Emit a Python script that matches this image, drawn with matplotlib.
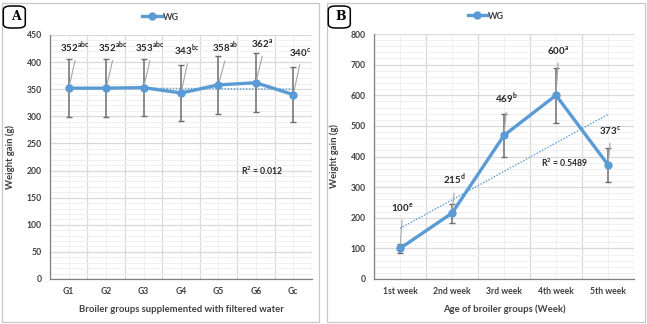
import numpy as np
import matplotlib
matplotlib.use("Agg")
import matplotlib.pyplot as plt
from matplotlib.patches import FancyBboxPatch, Rectangle
from matplotlib.ticker import MultipleLocator

plt.rcParams['font.family'] = ['Lato', 'DejaVu Sans']
plt.rcParams['mathtext.fontset'] = 'custom'
plt.rcParams['mathtext.rm'] = 'Lato'
plt.rcParams['mathtext.bf'] = 'Lato:bold'

# Panel A: weight gain per group
groups_a = ["G1", "G2", "G3", "G4", "G5", "G6", "Gc"]
wg_a = [352, 352, 353, 343, 358, 362, 340]
err_a = [53, 53, 53, 51, 54, 54, 51]
sup_a = ["abc", "abc", "abc", "bc", "ab", "a", "c"]
r2_a = "R$^\\mathbf{2}$ = 0.012"

# Panel B: weight gain per week
weeks_b = ["1st week", "2nd week", "3rd week", "4th week", "5th week"]
wg_b = [100, 215, 469, 600, 373]
err_b = [15, 31, 70, 90, 56]
sup_b = ["e", "d", "b", "a", "c"]
r2_b = "R$^\\mathbf{2}$ = 0.5489"

BLUE = "#5B9BD5"
W, H = 647, 324
fig = plt.figure(figsize=(W / 100, H / 100), dpi=100)


def px_rect(x0, y0, x1, y1):
    return [x0 / W, 1 - y1 / H, (x1 - x0) / W, (y1 - y0) / H]


def panel(ax_rect, box, letter, cats, vals, errs, sups, ymax, ystep,
          lab_dy, lab_dx, r2_text, r2_xy, xlabel):
    # outer frame of the panel
    bx0, by0, bx1, by1 = box
    fig.patches.append(Rectangle((bx0 / W, 1 - by1 / H), (bx1 - bx0) / W,
                                 (by1 - by0) / H, transform=fig.transFigure,
                                 fill=False, edgecolor="#C8C8C8", lw=0.9))
    # letter badge
    fig.patches.append(FancyBboxPatch((bx0 / W + 0.002, 1 - 28 / H), 22 / W, 22 / H,
                                      boxstyle="round,pad=0,rounding_size=0.012",
                                      transform=fig.transFigure, facecolor="white",
                                      edgecolor="black", lw=1.1))
    fig.text((bx0 + 14) / W, 1 - 16 / H, letter, family="DejaVu Serif",
             fontweight="bold", fontsize=9, ha="center", va="center")

    ax = fig.add_axes(px_rect(*ax_rect))
    n = len(cats)
    x = np.arange(n)
    ax.set_xlim(-0.5, n - 0.5)
    ax.set_ylim(0, ymax)
    ax.yaxis.set_major_locator(MultipleLocator(ystep))
    ax.yaxis.set_minor_locator(MultipleLocator(ystep / 5))
    ax.set_xticks(x)
    ax.set_xticklabels(cats)
    ax.set_xticks(np.arange(n + 1) - 0.5, minor=True)
    ax.grid(True, axis="y", which="major", color="#D9D9D9", lw=0.9)
    ax.grid(True, axis="y", which="minor", color="#F0F0F0", lw=0.7)
    ax.grid(True, axis="x", which="minor", color="#D9D9D9", lw=0.9)
    ax.grid(True, axis="x", which="major", color="#F0F0F0", lw=0.7)
    ax.set_axisbelow(True)
    for s in ("top", "right"):
        ax.spines[s].set_visible(False)
    for s in ("left", "bottom"):
        ax.spines[s].set_color("#808080")
        ax.spines[s].set_linewidth(0.9)
    ax.tick_params(which="both", length=0)
    ax.tick_params(axis="both", labelsize=6.2, colors="#404040", pad=6)
    for t in ax.get_xticklabels() + ax.get_yticklabels():
        t.set_fontweight("bold")
    ax.set_ylabel("Weight gain (g)", fontsize=6.8, fontweight="bold",
                  color="#404040", labelpad=8)
    ax.set_xlabel(xlabel, fontsize=6.8, fontweight="bold", color="#404040",
                  labelpad=6)

    # linear trendline
    xs = np.arange(1, n + 1)
    k, b = np.polyfit(xs, vals, 1)
    ax.plot(x, k * xs + b, ls=(0, (1, 1.2)), color=BLUE, lw=1.0, zorder=2)

    ax.errorbar(x, vals, yerr=errs, fmt="none", ecolor="#6E6E6E", elinewidth=1.1,
                capsize=2.5, capthick=1.0, zorder=3)
    ax.plot(x, vals, color=BLUE, lw=2.4, marker="o", ms=5, zorder=4, label="WG")

    for i, (v, s) in enumerate(zip(vals, sups)):
        ly = v + lab_dy[i]
        lx = i + lab_dx
        ax.plot([i, lx], [v, ly - ymax * 0.025], color="#A6A6A6", lw=0.8, zorder=3.5)
        ax.text(lx, ly, f"{v}$^{{\\mathbf{{{s}}}}}$", ha="center", va="bottom",
                fontsize=7, fontweight="bold", color="#262626", zorder=5)

    ax.text(*r2_xy, r2_text, fontsize=6.2, fontweight="bold", color="#262626",
            transform=ax.transData, ha="left", va="center")

    leg = ax.legend(loc="lower center", bbox_to_anchor=(((bx0 + bx1) / 2 - ax_rect[0])
                                                        / (ax_rect[2] - ax_rect[0]), 1.04),
                    frameon=False, fontsize=6.5, handlelength=2.2,
                    handletextpad=0.1, borderaxespad=0)
    for t in leg.get_texts():
        t.set_fontweight("bold")
        t.set_color("#404040")
    return ax


panel((50, 35, 312, 279), (2, 3, 319, 322), "A", groups_a, wg_a, err_a, sup_a,
      450, 50, [62, 62, 61, 65, 55, 60, 66], 0.17, r2_a, (4.6, 200),
      "Broiler groups supplemented with filtered water")

panel((374, 34, 634, 279), (327, 3, 645, 322), "B", weeks_b, wg_b, err_b, sup_b,
      800, 100, [112, 85, 95, 125, 90], 0.04, r2_b, (2.72, 378),
      "Age of broiler groups (Week)")

fig.savefig("out.png", dpi=100)
